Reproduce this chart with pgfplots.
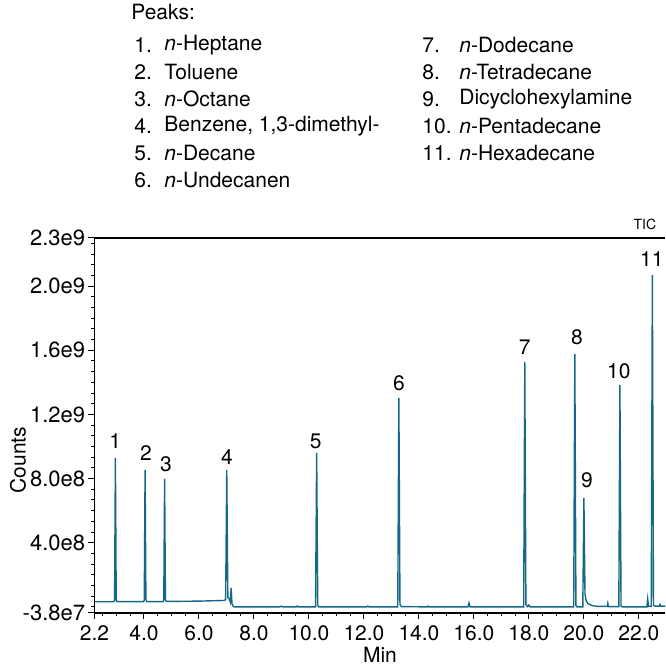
\documentclass[border=0pt]{standalone}
\usepackage{fontspec}
\setmainfont{TeX Gyre Heros}
\usepackage{pgfplots}
\pgfplotsset{compat=1.18}
\definecolor{tic}{RGB}{22,104,134}
\begin{document}
\begin{tikzpicture}
\begin{axis}[
  at={(0,0)}, anchor=south west,
  scale only axis, width=285.25pt, height=187.5pt,
  xmin=2.2, xmax=22.95, ymin=-3.8e7, ymax=2.3e9,
  axis lines=left, axis line style={-, line width=0.6pt},
  tick align=outside, tick style={black, line width=0.5pt},
  major tick length=3pt, minor tick length=1.6pt,
  xtick={2.2,4,6,8,10,12,14,16,18,20,22},
  xticklabels={2.2,4.0,6.0,8.0,10.0,12.0,14.0,16.0,18.0,20.0,22.0},
  minor xtick={2.5,3,...,22.5},
  ytick={-3.8e7,4e8,8e8,1.2e9,1.6e9,2.0e9,2.3e9},
  yticklabels={-3.8e7,4.0e8,8.0e8,1.2e9,1.6e9,2.0e9,2.3e9},
  minor ytick={0,6.6667e7,...,2.3e9},
  scaled y ticks=false,
  xticklabel style={font=\fontsize{10.5}{12}\selectfont},
  yticklabel style={font=\fontsize{11}{13}\selectfont, inner sep=1.5pt},
  clip=false,
]
\addplot[color=tic, line width=0.7pt] table {
2.20 3.2e7
2.90 3.2e7
2.93 4.0e7
2.96 9.29e8
2.99 4.5e7
3.02 3.3e7
3.98 3.3e7
4.01 4.0e7
4.04 8.54e8
4.07 4.5e7
4.10 3.3e7
4.69 3.3e7
4.72 4.0e7
4.75 7.98e8
4.78 4.5e7
4.81 3.4e7
6.00 3.6e7
6.90 4.0e7
6.97 4.5e7
7.01 8.54e8
7.05 6e7
7.10 5e7
7.14 3e7
7.17 1.18e8
7.20 2e7
7.25 2e6
7.30 0
8.95 0
9.00 5e6
9.05 0
9.55 0
9.58 6e6
9.61 0
10.24 0
10.28 9.6e8
10.32 8e6
10.36 0
12.10 0
12.14 5e6
12.18 0
13.23 0
13.27 1.303e9
13.31 1.5e7
13.36 2e6
14.30 0
14.33 5e6
14.36 0
15.78 0
15.82 2.5e7
15.86 0
17.81 0
17.85 1.527e9
17.89 1.5e7
17.95 2e6
18.00 1.2e7
18.04 0
19.63 0
19.67 1.577e9
19.71 1e7
19.75 0
19.96 0
20.00 6.79e8
20.04 8e7
20.08 4e7
20.15 2e7
20.30 8e6
20.50 3e6
20.85 3e6
20.87 2.2e7
20.89 2e6
21.27 2e6
21.31 1.384e9
21.35 5e6
21.40 0
22.29 0
22.32 5e7
22.35 3e6
22.45 3e6
22.49 2.069e9
22.53 8e6
22.60 5e6
22.75 5e6
22.77 1.5e7
22.79 5e6
22.95 5e6
};
\draw[line width=0.6pt] (rel axis cs:0,1) -- (rel axis cs:1,1);
\begin{scope}[every node/.style={font=\fontsize{10.5}{12}\selectfont}]
\node at (axis cs:2.95,1.034e9) {1};
\node at (axis cs:4.07,0.959e9) {2};
\node at (axis cs:4.80,0.891e9) {3};
\node at (axis cs:7.02,0.934e9) {4};
\node at (axis cs:10.25,1.034e9) {5};
\node at (axis cs:13.27,1.396e9) {6};
\node at (axis cs:17.85,1.620e9) {7};
\node at (axis cs:19.75,1.683e9) {8};
\node at (axis cs:20.11,0.791e9) {9};
\node at (axis cs:21.27,1.471e9) {10};
\node at (axis cs:22.47,2.169e9) {11};
\end{scope}
\node[rotate=90, font=\fontsize{10.5}{12}\selectfont] at (rel axis cs:-0.1340,0.408) {Counts};
\node[font=\fontsize{10.5}{12}\selectfont] at (rel axis cs:0.5004,-0.112) {Min};
\node[anchor=east, font=\fontsize{7}{8}\selectfont] at (rel axis cs:0.997,1.035) {TIC};
\end{axis}
\begin{scope}[every node/.style={anchor=west, font=\fontsize{10.5}{12}\selectfont, inner sep=0pt}]
\node at (18.25pt,300.5pt) {Peaks:};
\node at (19.75pt,284pt) {1.};   \node at (34.75pt,284pt) {\textit{n}-Heptane};
\node at (19.75pt,270.5pt) {2.}; \node at (34.75pt,270.5pt) {Toluene};
\node at (19.75pt,257pt) {3.};   \node at (34.75pt,257pt) {\textit{n}-Octane};
\node at (19.75pt,243.5pt) {4.}; \node at (34.75pt,243.5pt) {Benzene, 1,3-dimethyl-};
\node at (19.75pt,230pt) {5.};   \node at (34.75pt,230pt) {\textit{n}-Decane};
\node at (19.75pt,216.5pt) {6.}; \node at (34.75pt,216.5pt) {\textit{n}-Undecanen};
\node at (163.75pt,284pt) {7.};   \node at (182.25pt,284pt) {\textit{n}-Dodecane};
\node at (163.75pt,270.5pt) {8.}; \node at (182.25pt,270.5pt) {\textit{n}-Tetradecane};
\node at (163.75pt,257pt) {9.};   \node at (182.25pt,257pt) {Dicyclohexylamine};
\node at (163.75pt,243.5pt) {10.}; \node at (182.25pt,243.5pt) {\textit{n}-Pentadecane};
\node at (163.75pt,230pt) {11.};  \node at (182.25pt,230pt) {\textit{n}-Hexadecane};
\end{scope}
\pgfresetboundingbox
\useasboundingbox (-47.25pt,-29.5pt) rectangle (285.25pt,306.5pt);
\end{tikzpicture}
\end{document}
